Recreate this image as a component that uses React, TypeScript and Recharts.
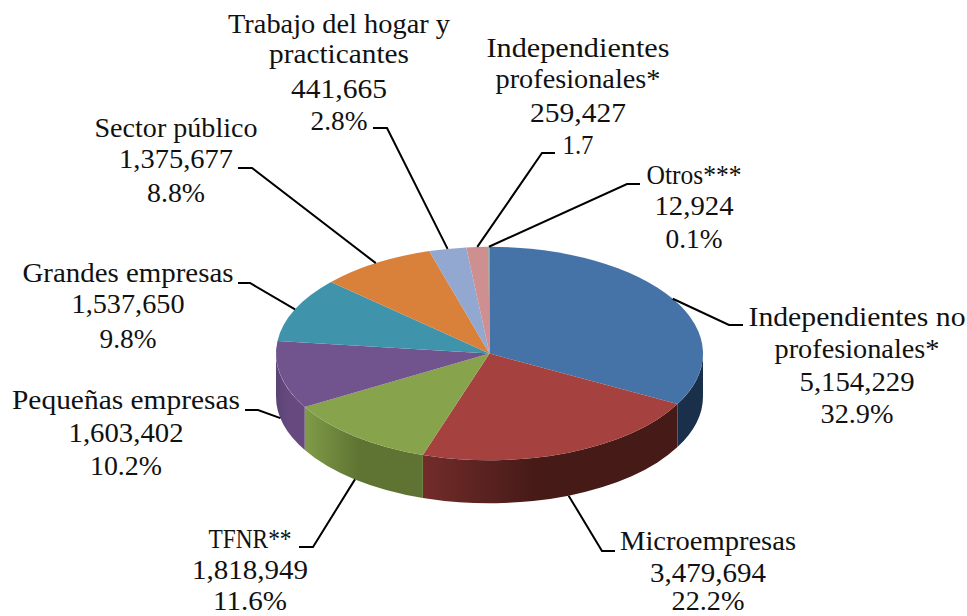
import React from "react";
import { PieChart, Pie } from "recharts";

const names: string[][] = [
  ["Independientes no", "profesionales*"],
  ["Microempresas"],
  ["TFNR**"],
  ["Pequeñas empresas"],
  ["Grandes empresas"],
  ["Sector público"],
  ["Trabajo del hogar y", "practicantes"],
  ["Independientes", "profesionales*"],
  ["Otros***"],
];
const values = [5154229, 3479694, 1818949, 1603402, 1537650, 1375677, 441665, 259427, 12924];
const shares = ["32.9%", "22.2%", "11.6%", "10.2%", "9.8%", "8.8%", "2.8%", "1.7", "0.1%"];

const topColors = ["#4572a7", "#a5423f", "#87a44c", "#71548d", "#3f94ac", "#d9803a", "#92a8d1", "#cd8f8f", "#5f9a8a"];
const sideFrom = ["#1a2f49", "#722c2a", "#809c48", "#5a4374", "#2b6676", "#94582a", "#64738f", "#8c6262", "#406a5e"];
const sideTo = ["#1a2f49", "#451a17", "#5f7432", "#67497f", "#2b6676", "#94582a", "#64738f", "#8c6262", "#406a5e"];

// Leader elbow and end, text centre x, text baselines and line widths for each label
const layout = [
  { elbow: [729, 325], end: [743, 325], tx: 857, ys: [326, 358, 391, 423], ws: [217, 165, 115, 73] },
  { elbow: [602, 551], end: [615, 551], tx: 708, ys: [550, 582, 610], ws: [176, 116, 73] },
  { elbow: [313, 547], end: [299, 547], tx: 250, ys: [548, 579, 610], ws: [83, 116, 74] },
  { elbow: [258, 410], end: [245, 410], tx: 126, ys: [409, 442, 475], ws: [228, 115, 72] },
  { elbow: [250, 283], end: [238, 283], tx: 128, ys: [282, 313, 348], ws: [211, 113, 57] },
  { elbow: [252, 168], end: [238, 168], tx: 176, ys: [137, 168, 202], ws: [163, 114, 58] },
  { elbow: [387, 128], end: [373, 128], tx: 339, ys: [33, 63, 98, 130], ws: [222, 140, 96, 57] },
  { elbow: [542, 153], end: [555, 153], tx: 578, ys: [57, 88, 122, 154], ws: [183, 165, 96, 31] },
  { elbow: [627, 184], end: [640, 184], tx: 694, ys: [184, 215, 248], ws: [95, 79, 57] },
];

const CX = 489.5;
const CY = 353.5;
const RX = 213.5;
const SQUASH = 0.5;
const DEPTH = 43;

const tableData = names.map((n, i) => ({ name: n.join(" "), value: values[i] }));

const pt = (a: number, dy = 0): [number, number] => {
  const r = (a * Math.PI) / 180;
  return [CX + RX * Math.cos(r), CY + dy - RX * SQUASH * Math.sin(r)];
};

const TopShape = (p: any) => {
  const s = pt(p.startAngle);
  const e = pt(p.endAngle);
  const large = Math.abs(p.startAngle - p.endAngle) > 180 ? 1 : 0;
  const d = `M${CX},${CY} L${s[0]},${s[1]} A${RX},${RX * SQUASH} 0 ${large} 1 ${e[0]},${e[1]} Z`;
  return <path d={d} fill={topColors[p.index]} stroke="none" />;
};

const SideShape = (p: any) => {
  const hi = Math.min(p.startAngle, 0);
  const lo = Math.max(p.endAngle, -180);
  if (hi <= lo) return <g />;
  const a = pt(hi);
  const b = pt(lo);
  const c = pt(lo, DEPTH);
  const f = pt(hi, DEPTH);
  const ry = RX * SQUASH;
  const d = `M${a[0]},${a[1]} A${RX},${ry} 0 0 1 ${b[0]},${b[1]} L${c[0]},${c[1]} A${RX},${ry} 0 0 0 ${f[0]},${f[1]} Z`;
  const id = `side-${p.index}`;
  return (
    <g>
      <defs>
        <linearGradient id={id} x1="1" y1="0" x2="0" y2="0">
          <stop offset="0" stopColor={sideTo[p.index]} />
          <stop offset="0.55" stopColor={sideTo[p.index]} />
          <stop offset="1" stopColor={sideFrom[p.index]} />
        </linearGradient>
      </defs>
      <path d={d} fill={`url(#${id})`} stroke="none" />
    </g>
  );
};

const SliceLabel = (p: any) => {
  const i = p.index;
  const l = layout[i];
  const mid = p.midAngle;
  const front = Math.sin((mid * Math.PI) / 180) < 0;
  const st = pt(mid, front ? DEPTH : 0);
  const lines = [...names[i], values[i].toLocaleString("en-US"), shares[i]];
  return (
    <g>
      <polyline
        points={`${st[0]},${st[1]} ${l.elbow[0]},${l.elbow[1]} ${l.end[0]},${l.end[1]}`}
        fill="none"
        stroke="#000"
        strokeWidth={2}
      />
      {lines.map((t, k) => (
        <text
          key={k}
          x={l.tx}
          y={l.ys[k]}
          textAnchor="middle"
          fontFamily="'Liberation Serif', serif"
          fontSize={27}
          textLength={l.ws[k]}
          lengthAdjust="spacingAndGlyphs"
          fill="#111"
        >
          {t}
        </text>
      ))}
    </g>
  );
};

export default function App() {
  return (
    <div style={{ position: "absolute", left: 0, top: 0, width: 967, height: 616, background: "#fff" }}>
      <PieChart width={967} height={616} margin={{ top: 0, right: 0, bottom: 0, left: 0 }}>
        <Pie
          data={tableData}
          dataKey="value"
          nameKey="name"
          cx={CX}
          cy={CY}
          outerRadius={RX}
          startAngle={90}
          endAngle={-270}
          isAnimationActive={false}
          shape={SideShape}
          label={false}
          labelLine={false}
        />
        <Pie
          data={tableData}
          dataKey="value"
          nameKey="name"
          cx={CX}
          cy={CY}
          outerRadius={RX}
          startAngle={90}
          endAngle={-270}
          isAnimationActive={false}
          shape={TopShape}
          label={SliceLabel}
          labelLine={false}
        />
      </PieChart>
    </div>
  );
}
